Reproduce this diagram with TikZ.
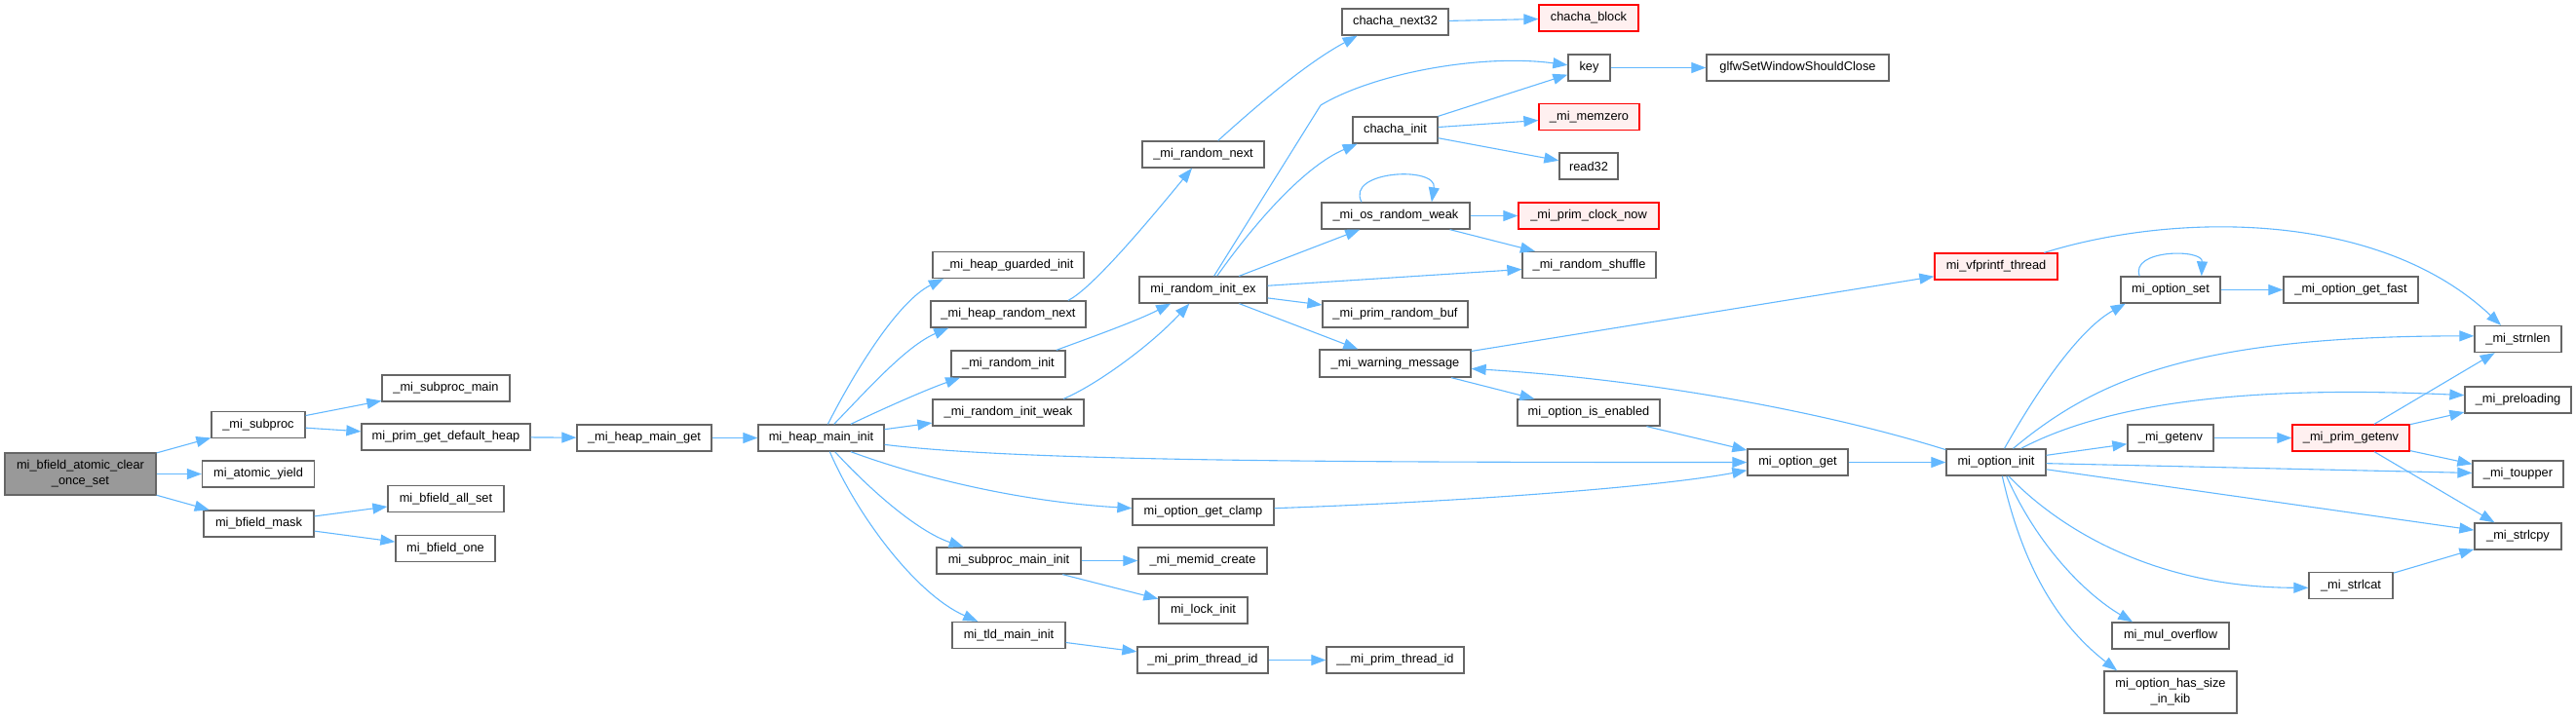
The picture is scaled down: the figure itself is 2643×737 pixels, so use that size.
\documentclass[tikz,border=0pt]{standalone}
\usepackage{fontspec}
\setmainfont{Liberation Sans}
\usetikzlibrary{arrows.meta}
\definecolor{edgeblue}{HTML}{63B8FF}
\definecolor{boxline}{HTML}{666666}
\definecolor{rootfill}{HTML}{999999}
\definecolor{extline}{HTML}{FF0000}
\definecolor{extfill}{HTML}{FFF0F0}

\begin{document}
\begin{tikzpicture}[x=1pt,y=-1pt,line width=1pt,font=\fontsize{12.8}{16}\selectfont,
  fn/.style={draw=boxline,fill=white,line width=1.3pt,inner sep=0pt,minimum height=27pt,align=center},
  rootfn/.style={fn,fill=rootfill,minimum height=43pt},
  extfn/.style={fn,draw=extline,fill=extfill},
  call/.style={draw=edgeblue,line width=1.1pt,-{Triangle[length=15pt,width=11pt]}}]
\useasboundingbox (0,0) rectangle (2643,737);
\node[rootfn,minimum width=155pt] (root) at (82.5,486.5) {mi\_bfield\_atomic\_clear\\\_once\_set};
\node[fn,minimum width=96pt] (subproc) at (265,436) {\_mi\_subproc};
\node[fn,minimum width=115pt] (ayield) at (265,486.5) {mi\_atomic\_yield};
\node[fn,minimum width=113pt] (bmask) at (265.5,537.5) {mi\_bfield\_mask};
\node[fn,minimum width=131pt] (submain) at (457.5,398.5) {\_mi\_subproc\_main};
\node[fn,minimum width=173pt] (pgdh) at (457.5,448.5) {mi\_prim\_get\_default\_heap};
\node[fn,minimum width=119pt] (ballset) at (457.5,512) {mi\_bfield\_all\_set};
\node[fn,minimum width=102pt] (bone) at (457,563) {mi\_bfield\_one};
\node[fn,minimum width=138pt] (hmg) at (661,449.5) {\_mi\_heap\_main\_get};
\node[fn,minimum width=129pt] (hmi) at (842.5,449.5) {mi\_heap\_main\_init};
\node[fn,minimum width=155pt] (hgi) at (1034.5,272) {\_mi\_heap\_guarded\_init};
\node[fn,minimum width=159pt] (hrn) at (1034.5,322.5) {\_mi\_heap\_random\_next};
\node[fn,minimum width=117pt] (rinit) at (1034.5,373.5) {\_mi\_random\_init};
\node[fn,minimum width=155pt] (rweak) at (1034.5,423.5) {\_mi\_random\_init\_weak};
\node[fn,minimum width=148pt] (smi) at (1035,575.5) {mi\_subproc\_main\_init};
\node[fn,minimum width=116pt] (tmi) at (1035,652) {mi\_tld\_main\_init};
\node[fn,minimum width=125pt] (rnext) at (1234.5,158.5) {\_mi\_random\_next};
\node[fn,minimum width=131pt] (rie) at (1234.5,297.5) {mi\_random\_init\_ex};
\node[fn,minimum width=145pt] (ogc) at (1234.5,525.5) {mi\_option\_get\_clamp};
\node[fn,minimum width=132pt] (memid) at (1234,575.5) {\_mi\_memid\_create};
\node[fn,minimum width=91pt] (lock) at (1234.5,626.5) {mi\_lock\_init};
\node[fn,minimum width=134pt] (ptid) at (1234,677.5) {\_mi\_prim\_thread\_id};
\node[fn,minimum width=109pt] (cnext) at (1431.5,22.5) {chacha\_next32};
\node[fn,minimum width=87pt] (cinit) at (1431.5,133.5) {chacha\_init};
\node[fn,minimum width=152pt] (osweak) at (1432,221.5) {\_mi\_os\_random\_weak};
\node[fn,minimum width=149pt] (rbuf) at (1431.5,322.5) {\_mi\_prim\_random\_buf};
\node[fn,minimum width=155pt,minimum height=28pt] (warn) at (1431.5,373) {\_mi\_warning\_message};
\node[fn,minimum width=141pt] (ptid2) at (1431.5,677.5) {\_\_mi\_prim\_thread\_id};
\node[extfn,minimum width=102pt] (cblock) at (1630,18.5) {chacha\_block};
\node[fn,minimum width=43pt] (key) at (1630.5,69.5) {key};
\node[extfn,minimum width=103pt] (memzero) at (1630.5,120) {\_mi\_memzero};
\node[fn,minimum width=60pt] (read32) at (1630,170.5) {read32};
\node[extfn,minimum width=144pt] (clock) at (1630,221.5) {\_mi\_prim\_clock\_now};
\node[fn,minimum width=137pt] (shuffle) at (1630.5,272) {\_mi\_random\_shuffle};
\node[fn,minimum width=146pt] (oie) at (1630,423.5) {mi\_option\_is\_enabled};
\node[fn,minimum width=187pt] (glfw) at (1844.5,69.5) {glfwSetWindowShouldClose};
\node[fn,minimum width=103pt] (oget) at (1844.5,474.5) {mi\_option\_get};
\node[extfn,minimum width=126pt] (vfp) at (2048,273.5) {mi\_vfprintf\_thread};
\node[fn,minimum width=102pt] (oinit) at (2048,474.5) {mi\_option\_init};
\node[fn,minimum width=102pt] (oset) at (2227,297.5) {mi\_option\_set};
\node[fn,minimum width=88pt] (getenv) at (2227,449.5) {\_mi\_getenv};
\node[fn,minimum width=120pt] (mulov) at (2227,652.5) {mi\_mul\_overflow};
\node[fn,minimum width=136pt,minimum height=43pt] (hsize) at (2227,710.5) {mi\_option\_has\_size\\\_in\_kib};
\node[fn,minimum width=138pt] (ogfast) at (2412,297.5) {\_mi\_option\_get\_fast};
\node[extfn,minimum width=120pt] (pgetenv) at (2412,449.5) {\_mi\_prim\_getenv};
\node[fn,minimum width=86pt] (strlcat) at (2412,601) {\_mi\_strlcat};
\node[fn,minimum width=89pt] (strnlen) at (2583.5,348) {\_mi\_strnlen};
\node[fn,minimum width=109pt] (preload) at (2583.5,410.5) {\_mi\_preloading};
\node[fn,minimum width=93pt] (toupper) at (2583.5,486.5) {\_mi\_toupper};
\node[fn,minimum width=89pt] (strlcpy) at (2583.5,550.5) {\_mi\_strlcpy};
\draw[call] (root) -- (subproc);
\draw[call] (root) -- (ayield);
\draw[call] (root) -- (bmask);
\draw[call] (subproc) -- (submain);
\draw[call] (subproc) -- (pgdh);
\draw[call] (bmask) -- (ballset);
\draw[call] (bmask) -- (bone);
\draw[call] (pgdh) -- (hmg);
\draw[call] (hmg) -- (hmi);
\draw[call] (hmi.64) .. controls (875,385) and (920,310) .. (hgi.192);
\draw[call] (hmi.47) .. controls (890,400) and (930,355) .. (hrn.193);
\draw[call] (hmi.25) .. controls (905,420) and (950,400) .. (rinit.196);
\draw[call] (hmi) -- (rweak);
\draw[call] (hmi.354) .. controls (1050,474) and (1400,474.5) .. (oget.west);
\draw[call] (hmi.335) .. controls (950,492) and (1050,515) .. (ogc.177);
\draw[call] (hmi.315) .. controls (890,500) and (940,545) .. (smi.163);
\draw[call] (hmi.302) .. controls (880,530) and (940,610) .. (tmi.156);
\draw[call] (hrn.13) .. controls (1120,297) and (1180,225) .. (rnext.231);
\draw[call] (rinit.16) .. controls (1120,346) and (1165,330) .. (rie.203);
\draw[call] (rweak.14) .. controls (1125,395) and (1180,355) .. (rie.225);
\draw[call] (rnext.43) .. controls (1290,108) and (1340,65) .. (cnext.200);
\draw[call] (rie.52) -- (1355,108) .. controls (1410,75) and (1520,55) .. (key.173);
\draw[call] (rie.45) .. controls (1290,225) and (1340,170) .. (cinit.200);
\draw[call] (rie) -- (osweak);
\draw[call] (rie) -- (shuffle);
\draw[call] (rie) -- (rbuf);
\draw[call] (rie) -- (warn);
\draw[call] (cnext) -- (cblock);
\draw[call] (cinit) -- (key);
\draw[call] (cinit) -- (memzero);
\draw[call] (cinit) -- (read32);
\draw[call] (key) -- (glfw);
\draw[call] (osweak.158) .. controls (1380,175) and (1475,170) .. (osweak.21);
\draw[call] (osweak) -- (clock);
\draw[call] (osweak) -- (shuffle);
\draw[call] (warn) -- (vfp);
\draw[call] (warn) -- (oie);
\draw[call] (oie) -- (oget);
\draw[call] (ogc.3) .. controls (1500,515) and (1700,500) .. (oget.189);
\draw[call] (oget) -- (oinit);
\draw[call] (oinit.166) .. controls (1880,425) and (1700,390) .. (warn.356);
\draw[call] (vfp.16) .. controls (2230,218) and (2440,215) .. (strnlen.141);
\draw[call] (oinit.59) .. controls (2085,410) and (2130,340) .. (oset.197);
\draw[call] (oset.156) .. controls (2185,256) and (2260,255) .. (oset.24);
\draw[call] (oset) -- (ogfast);
\draw[call] (oinit.39) .. controls (2150,390) and (2250,345) .. (strnlen.176);
\draw[call] (oinit.29) .. controls (2160,415) and (2300,395) .. (preload.175);
\draw[call] (oinit) -- (getenv);
\draw[call] (getenv) -- (pgetenv);
\draw[call] (pgetenv) -- (strnlen);
\draw[call] (pgetenv) -- (preload);
\draw[call] (pgetenv) -- (toupper);
\draw[call] (pgetenv) -- (strlcpy);
\draw[call] (oinit) -- (toupper);
\draw[call] (oinit) -- (strlcpy);
\draw[call] (oinit.312) .. controls (2120,550) and (2220,603) .. (strlcat.183);
\draw[call] (strlcat) -- (strlcpy);
\draw[call] (oinit.307) .. controls (2090,560) and (2140,610) .. (mulov.160);
\draw[call] (oinit.294) .. controls (2075,580) and (2110,640) .. (hsize.158);
\draw[call] (smi) -- (memid);
\draw[call] (smi) -- (lock);
\draw[call] (tmi) -- (ptid);
\draw[call] (ptid) -- (ptid2);
\end{tikzpicture}
\end{document}
